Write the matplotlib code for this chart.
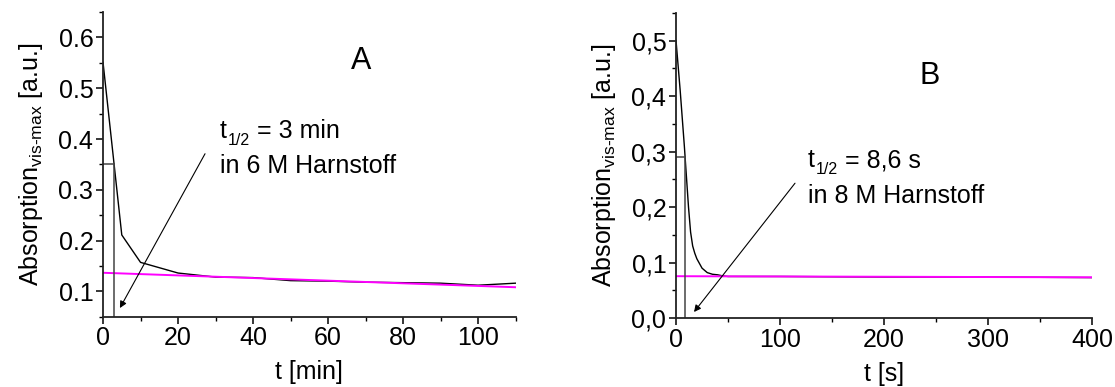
import matplotlib.pyplot as plt
from matplotlib.ticker import MultipleLocator

plt.rcParams["font.family"] = ["Liberation Sans", "DejaVu Sans"]
plt.rcParams["mathtext.fontset"] = "custom"
plt.rcParams["mathtext.rm"] = "Liberation Sans"
plt.rcParams["mathtext.it"] = "Liberation Sans"

# Messwerte A (6 M Harnstoff, t in min)
t_a = [0, 5, 10, 20, 30, 40, 50, 60, 70, 80, 90, 100, 110]
abs_a = [0.551, 0.211, 0.157, 0.136, 0.128, 0.127, 0.121, 0.120, 0.118, 0.117, 0.116, 0.112, 0.116]
fit_t_a = [0, 110]
fit_a = [0.1365, 0.108]
half_t_a = 3
half_abs_a = 0.35

# Messwerte B (8 M Harnstoff, t in s)
t_b = [0, 2, 4, 6, 8, 10, 12, 14, 16, 18, 20, 25, 30, 35, 40, 45, 50, 100, 200, 300, 400]
abs_b = [0.50, 0.455, 0.41, 0.36, 0.31, 0.255, 0.20, 0.155, 0.13, 0.117, 0.107, 0.090,
         0.082, 0.079, 0.078, 0.076, 0.075, 0.075, 0.074, 0.074, 0.073]
fit_t_b = [0, 400]
fit_b = [0.0755, 0.0735]
half_t_b = 8.6
half_abs_b = 0.29

yticks_a = [0.1, 0.2, 0.3, 0.4, 0.5, 0.6]
ylabels_a = ["0.1", "0.2", "0.3", "0.4", "0.5", "0.6"]
yticks_b = [0.0, 0.1, 0.2, 0.3, 0.4, 0.5]
ylabels_b = ["0,0", "0,1", "0,2", "0,3", "0,4", "0,5"]

fig = plt.figure(figsize=(11.15, 3.87), dpi=100)
ax1 = fig.add_axes([0.0924, 0.1817, 0.370, 0.787])
ax2 = fig.add_axes([0.6063, 0.178, 0.3731, 0.789])

fs = 18
ylab = r"Absorption$_{\mathrm{vis}\text{-}\mathrm{max}}$ [a.u.]"


def style(ax):
    for s in ["top", "right"]:
        ax.spines[s].set_visible(False)
    for s in ["left", "bottom"]:
        ax.spines[s].set_linewidth(1.3)
        ax.spines[s].set_color("#222222")
    ax.tick_params(which="major", direction="out", length=5, width=1.1, labelsize=fs, pad=2)
    ax.tick_params(which="minor", direction="out", length=3, width=1.0)


def halbwert_text(ax, x, y, rest, zeile2):
    # "t" mit tief gestelltem "1/2", danach der Rest der Zeile
    t = ax.text(x, y, "t", fontsize=fs, ha="left", va="bottom")
    sub = ax.annotate("1/2", xy=(1, 0), xycoords=t, xytext=(0.5, -3.5),
                      textcoords="offset points", fontsize=11.5, ha="left", va="bottom")
    ax.annotate(rest, xy=(1, 0), xycoords=(sub, t), xytext=(0, 0),
                textcoords="offset points", fontsize=fs, ha="left", va="bottom")
    ax.annotate(zeile2, xy=(0, 0), xycoords=t, xytext=(0, -25.5),
                textcoords="offset points", fontsize=fs, ha="left", va="bottom")


# Panel A
ax1.plot(t_a, abs_a, color="black", lw=1.0)
ax1.plot(fit_t_a, fit_a, color="magenta", lw=1.4)
ax1.plot([0, half_t_a], [half_abs_a, half_abs_a], color="#444444", lw=1.1)
ax1.plot([half_t_a, half_t_a], [0.05, half_abs_a], color="#444444", lw=1.1)
ax1.set_xlim(0, 110)
ax1.set_ylim(0.05, 0.65)
ax1.set_yticks(yticks_a)
ax1.set_yticklabels(ylabels_a)
ax1.xaxis.set_major_locator(MultipleLocator(20))
ax1.xaxis.set_minor_locator(MultipleLocator(10))
ax1.yaxis.set_minor_locator(MultipleLocator(0.05))
style(ax1)
ax1.set_xlabel("t [min]", fontsize=fs, labelpad=7)
ax1.set_ylabel(ylab, fontsize=fs, labelpad=10)
ax1.text(68.8, 0.554, "A", fontsize=22, ha="center", va="center")
halbwert_text(ax1, 31.2, 0.392, " = 3 min", "in 6 M Harnstoff")
ax1.annotate("", xy=(4.5, 0.067), xytext=(27.2, 0.371),
             arrowprops=dict(arrowstyle="-|>", lw=0.8, color="black",
                             mutation_scale=10, shrinkA=0, shrinkB=0))

# Panel B
ax2.plot(t_b, abs_b, color="black", lw=1.0)
ax2.plot(fit_t_b, fit_b, color="magenta", lw=1.4)
ax2.plot([0, half_t_b], [half_abs_b, half_abs_b], color="#444444", lw=1.1)
ax2.plot([half_t_b, half_t_b], [0, half_abs_b], color="#444444", lw=1.1)
ax2.set_xlim(0, 400)
ax2.set_ylim(0, 0.55)
ax2.set_yticks(yticks_b)
ax2.set_yticklabels(ylabels_b)
ax2.xaxis.set_major_locator(MultipleLocator(100))
ax2.xaxis.set_minor_locator(MultipleLocator(50))
ax2.yaxis.set_minor_locator(MultipleLocator(0.05))
style(ax2)
ax2.set_xlabel("t [s]", fontsize=fs, labelpad=7)
ax2.set_ylabel(ylab, fontsize=fs, labelpad=10)
ax2.text(244, 0.437, "B", fontsize=22, ha="center", va="center")
halbwert_text(ax2, 127, 0.263, " = 8,6 s", "in 8 M Harnstoff")
ax2.annotate("", xy=(17.3, 0.011), xytext=(114.4, 0.243),
             arrowprops=dict(arrowstyle="-|>", lw=0.8, color="black",
                             mutation_scale=10, shrinkA=0, shrinkB=0))

fig.savefig("out.png", dpi=100)
